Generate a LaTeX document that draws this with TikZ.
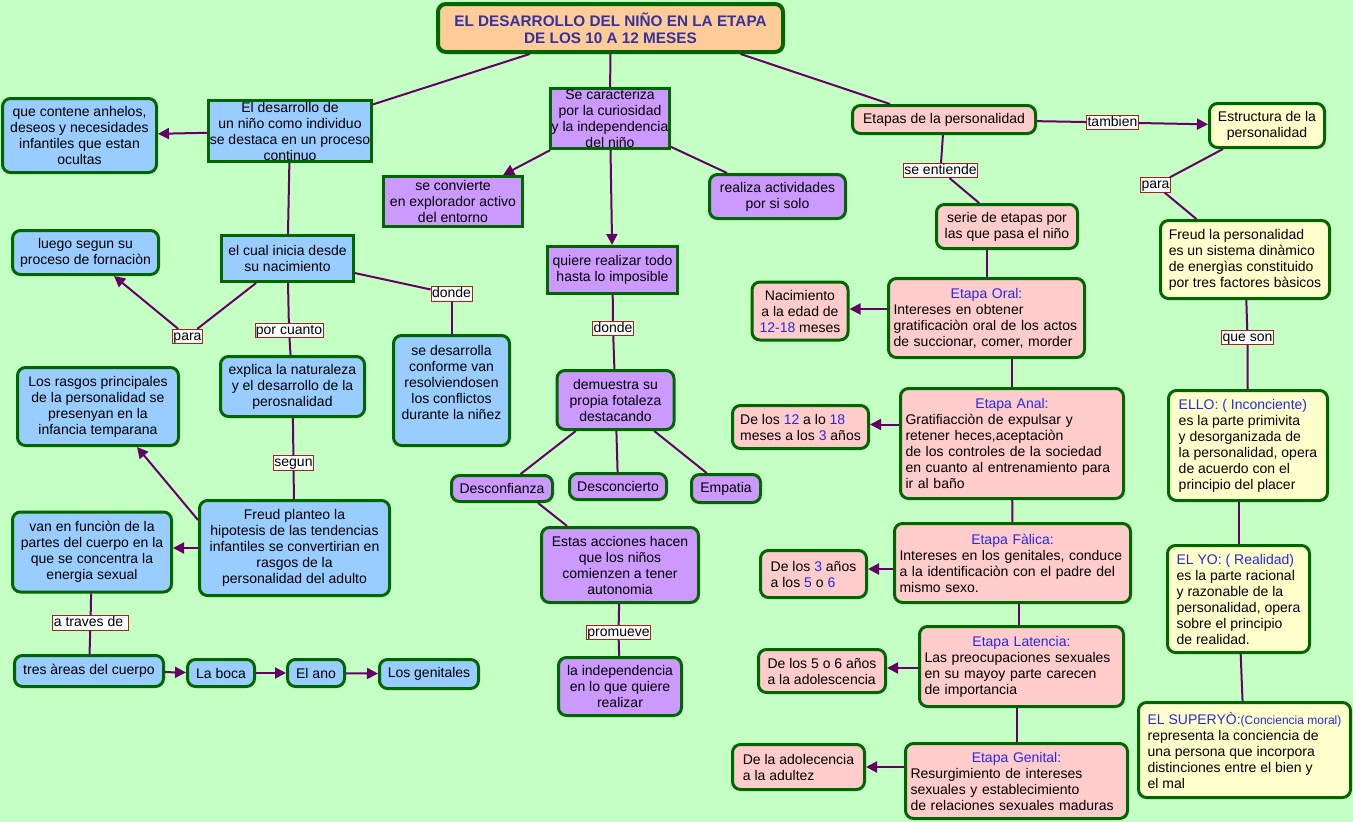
\documentclass[tikz,border=0pt]{standalone}
\usepackage{fontspec}
\setmainfont{Liberation Sans}
\usetikzlibrary{arrows.meta,calc}
\definecolor{fondo}{RGB}{196,255,196}
\definecolor{borde}{RGB}{0,102,0}
\definecolor{azul}{RGB}{153,204,255}
\definecolor{lila}{RGB}{204,153,255}
\definecolor{rosa}{RGB}{255,204,204}
\definecolor{crema}{RGB}{255,255,204}
\definecolor{naranja}{RGB}{255,204,153}
\definecolor{titulo}{RGB}{51,51,153}
\definecolor{resalta}{RGB}{40,40,230}
\definecolor{enlace}{RGB}{102,0,102}
\definecolor{marco}{RGB}{170,30,30}
\hyphenpenalty=10000
\exhyphenpenalty=10000
\newcommand{\res}[1]{\textcolor{resalta}{#1}}
\newcommand{\cabeza}[1]{\hbox to\hsize{\hss\res{#1}\hss}\\}
\tikzset{
	concepto/.style={draw=borde,line width=3pt,rounded corners=8pt,inner sep=1pt,align=center,text=black,font=\fontsize{14}{16}\selectfont},
	cazul/.style={concepto,fill=azul},
	clila/.style={concepto,fill=lila},
	crosa/.style={concepto,fill=rosa},
	ccrema/.style={concepto,fill=crema},
	etapa/.style={crosa,align=left,inner xsep=5pt},
	frase/.style={draw=marco,line width=0.8pt,fill=white,inner xsep=1pt,inner ysep=0.5pt,text height=10.5pt,text depth=3pt,font=\fontsize{14}{16}\selectfont},
	liga/.style={draw=enlace,line width=2pt},
	flecha/.style={liga,-{Triangle[length=11pt,width=11pt]}}
}
\begin{document}
\begin{tikzpicture}[x=1pt,y=-1pt]
		\useasboundingbox (0,0) rectangle (1353,822);
		\fill[fondo] (0,0) rectangle (1353,822);
		\node[concepto,fill=naranja,line width=4pt,text=titulo,font=\bfseries\fontsize{15.3}{17}\selectfont,minimum width=345pt,minimum height=48pt] (tit) at (610.5,28) {EL DESARROLLO DEL NIÑO EN LA ETAPA\\DE LOS 10 A 12 MESES};
		\node[cazul,sharp corners,minimum width=163pt,minimum height=61pt] (desarrollo) at (290,131) {El desarrollo de\\un niño como individuo\\se destaca en un proceso\\continuo};
		\node[cazul,minimum width=154pt,minimum height=74pt] (anhelos) at (79.5,135.5) {que contene anhelos,\\deseos y necesidades\\infantiles que estan\\ocultas};
		\node[clila,sharp corners,minimum width=119pt,minimum height=60pt] (caracteriza) at (610,118.5) {Se caracteriza\\por la curiosidad\\y la independencia\\del niño};
		\node[clila,sharp corners,minimum width=139pt,minimum height=50pt] (convierte) at (453,201.5) {se convierte\\en explorador activo\\del entorno};
		\node[clila,minimum width=136pt,minimum height=44pt] (realiza) at (777.5,196.5) {realiza actividades\\por si solo};
		\node[clila,sharp corners,minimum width=130pt,minimum height=47pt] (quiere) at (612.5,270) {quiere realizar todo\\hasta lo imposible};
		\node[crosa,minimum width=183pt,minimum height=28pt] (etapas) at (944,119.5) {Etapas de la personalidad};
		\node[ccrema,minimum width=115pt,minimum height=44pt] (estructura) at (1267,125.5) {Estructura de la\\personalidad};
		\node[crosa,minimum width=141pt,minimum height=44pt] (serie) at (1007,226.5) {serie de etapas por\\las que pasa el niño};
		\node[ccrema,align=left,minimum width=169pt,minimum height=78pt] (freudpers) at (1245,259.5) {Freud la personalidad\\es un sistema dinàmico\\de energìas constituido\\por tres factores bàsicos};
		\node[cazul,sharp corners,minimum width=132pt,minimum height=46pt] (inicia) at (287.5,258.5) {el cual inicia desde\\su nacimiento};
		\node[cazul,minimum width=146pt,minimum height=44pt] (luego) at (85.5,252.5) {luego segun su\\proceso de fornaciòn};
		\node[cazul,minimum width=144pt,minimum height=60pt] (explica) at (292.5,386.5) {explica la naturaleza\\y el desarrollo de la\\perosnalidad};
		\node[cazul,minimum width=116pt,minimum height=110pt] (resuelve) at (451.5,390.5) {se desarrolla\\conforme van\\resolviendosen\\los conflictos\\durante la niñez\\\mbox{}};
		\node[cazul,minimum width=161pt,minimum height=78pt] (rasgos) at (98,406.5) {Los rasgos principales\\de la personalidad se\\presenyan en la\\infancia temparana};
		\node[cazul,minimum width=190pt,minimum height=95pt] (planteo) at (294.5,548) {Freud planteo la\\hipotesis de las tendencias\\infantiles se convertirian en\\rasgos de la\\personalidad del adulto};
		\node[cazul,minimum width=159pt,minimum height=80pt] (funcion) at (92,552) {van en funciòn de la\\partes del cuerpo en la\\que se concentra la\\energia sexual};
		\node[cazul,minimum width=149pt,minimum height=31pt] (areas) at (89,671) {tres àreas del cuerpo};
		\node[cazul,minimum width=67pt,minimum height=27pt] (boca) at (221,673) {La boca};
		\node[cazul,minimum width=57pt,minimum height=27pt] (ano) at (316,673) {El ano};
		\node[cazul,minimum width=99pt,minimum height=29pt] (genitales) at (429,674) {Los genitales};
		\node[clila,minimum width=117pt,minimum height=59pt] (demuestra) at (615.5,400) {demuestra su\\propia fotaleza\\destacando};
		\node[clila,minimum width=101pt,minimum height=26pt] (desconfianza) at (502,488.5) {Desconfianza};
		\node[clila,minimum width=97pt,minimum height=26pt] (desconcierto) at (618,486.5) {Desconcierto};
		\node[clila,minimum width=69pt,minimum height=28pt] (empatia) at (726,488.5) {Empatia};
		\node[clila,minimum width=157pt,minimum height=75pt] (acciones) at (620,565) {Estas acciones hacen\\que los niños\\comienzen a tener\\autonomia};
		\node[clila,minimum width=123pt,minimum height=58pt] (independencia) at (620,686.5) {la independencia\\en lo que quiere\\realizar};
		\node[crosa,minimum width=96pt,minimum height=58pt] (nacimiento) at (800,311) {Nacimiento\\a la edad de\\\res{12-18} meses};
		\node[etapa,text width=186pt,minimum width=196pt,minimum height=79pt] (oral) at (986.5,318) {\cabeza{Etapa Oral:}Intereses en obtener\\gratificaciòn oral de los actos\\de succionar, comer, morder};
		\node[crosa,align=left,minimum width=136pt,minimum height=43pt] (doce) at (800.5,427) {De los \res{12} a lo \res{18}\\meses a los \res{3} años};
		\node[etapa,text width=213pt,minimum width=223pt,minimum height=110pt] (anal) at (1012,443.5) {\cabeza{Etapa Anal:}Gratifiacciòn de expulsar y\\retener heces,aceptaciòn\\de los controles de la sociedad\\en cuanto al entrenamiento para\\ir al baño};
		\node[crosa,align=left,minimum width=106pt,minimum height=47pt] (tresanos) at (813.5,574) {De los \res{3} años\\a los \res{5} o \res{6}};
		\node[etapa,text width=226pt,minimum width=236pt,minimum height=79pt] (falica) at (1012.5,563) {\cabeza{Etapa Fàlica:}Intereses en los genitales, conduce\\a la identificaciòn con el padre del\\mismo sexo.};
		\node[crosa,align=left,minimum width=127pt,minimum height=43pt] (cincoseis) at (822,671) {De los 5 o 6 años\\a la adolescencia};
		\node[etapa,text width=194pt,minimum width=204pt,minimum height=80pt] (latencia) at (1021.5,666.5) {\cabeza{Etapa Latencia:}Las preocupaciones sexuales\\en su mayoy parte carecen\\de importancia};
		\node[crosa,align=left,minimum width=132pt,minimum height=45pt] (adultez) at (798.5,767) {De la adolecencia\\a la adultez};
		\node[etapa,text width=212pt,minimum width=222pt,minimum height=75pt] (genital) at (1016.5,781) {\cabeza{Etapa Genital:}Resurgimiento de intereses\\sexuales y establecimiento\\de relaciones sexuales maduras};
		\node[ccrema,align=left,minimum width=159pt,minimum height=110pt] (ello) at (1248,445.5) {\res{ELLO: ( Inconciente)}\\es la parte primivita\\y desorganizada de\\la personalidad, opera\\de acuerdo con el\\principio del placer};
		\node[ccrema,align=left,minimum width=142pt,minimum height=107pt] (yo) at (1238.5,599) {\res{EL YO: ( Realidad)}\\es la parte racional\\y razonable de la\\personalidad, opera\\sobre el principio\\de realidad.};
		\node[ccrema,align=left,minimum width=212pt,minimum height=95pt] (superyo) at (1244.5,750) {\res{EL SUPERYÒ:{\fontsize{12}{16}\selectfont(Conciencia moral)}}\\representa la conciencia de\\una persona que incorpora\\distinciones entre el bien y\\el mal};
		\node[frase] (fpara) at (187.5,336.5) {para};
		\node[frase] (fporcuanto) at (289,330.5) {por cuanto};
		\node[frase] (fdonde) at (451.5,294) {donde};
		\node[frase] (fdondedos) at (613,328.5) {donde};
		\node[frase] (fsegun) at (293.5,463) {segun};
		\node[frase] (fatraves) at (90.5,623) {a traves de\hspace*{4pt}};
		\node[frase] (fpromueve) at (618.5,632.5) {promueve};
		\node[frase] (ftambien) at (1112.5,122.5) {tambien};
		\node[frase] (fentiende) at (940.5,170.5) {se entiende};
		\node[frase] (fparados) at (1155.5,185) {para};
		\node[frase] (fqueson) at (1247.5,337.5) {que son};
		\draw[liga] (tit) -- (desarrollo);
		\draw[liga] (tit) -- (caracteriza);
		\draw[liga] ($(tit.south)+(130,0)$) -- ($(etapas.north)+(-54,0)$);
		\draw[flecha] (desarrollo) -- (anhelos);
		\draw[liga] (desarrollo) -- (inicia);
		\draw[flecha] (caracteriza) -- (convierte);
		\draw[liga] (caracteriza) -- (realiza);
		\draw[flecha] (caracteriza) -- (quiere);
		\draw[liga] (quiere) -- (fdondedos);
		\draw[liga] (fdondedos) -- (demuestra);
		\draw[liga] (demuestra) -- (desconfianza);
		\draw[liga] (demuestra) -- (desconcierto);
		\draw[liga] (demuestra) -- (empatia);
		\draw[liga] ($(desconfianza.south)+(36,0)$) -- ($(acciones.north)+(-53,0)$);
		\draw[liga] (acciones) -- (fpromueve);
		\draw[liga] (fpromueve) -- (independencia);
		\draw[liga] (inicia) -- (fpara);
		\draw[flecha] (fpara) -- (luego);
		\draw[liga] (inicia) -- (fporcuanto);
		\draw[liga] (fporcuanto) -- (explica);
		\draw[liga] (inicia) -- (fdonde);
		\draw[liga] (fdonde) -- (resuelve);
		\draw[liga] (explica) -- (fsegun);
		\draw[liga] (fsegun) -- (planteo);
		\draw[flecha] ($(planteo.west)+(0,-28)$) -- ($(rasgos.south)+(39,0)$);
		\draw[flecha] (planteo.west) -- (planteo.west -| funcion.east);
		\draw[liga] (funcion) -- (fatraves);
		\draw[liga] (fatraves) -- (areas);
		\draw[flecha] (areas) -- (boca);
		\draw[flecha] (boca) -- (ano);
		\draw[flecha] (ano) -- (genitales);
		\draw[liga] (etapas) -- (ftambien);
		\draw[flecha] (ftambien) -- (estructura);
		\draw[liga] (etapas) -- (fentiende);
		\draw[liga] (fentiende) -- (serie);
		\draw[liga] (oral.north |- serie.south) -- (oral.north);
		\draw[flecha] ([yshift=9pt]oral.west) coordinate (o1) -- (o1 -| nacimiento.east);
		\draw[liga] (anal.north |- oral.south) -- (anal.north);
		\draw[flecha] ([yshift=19pt]anal.west) coordinate (a1) -- (a1 -| doce.east);
		\draw[liga] (anal) -- (falica);
		\draw[flecha] ([yshift=-6pt]falica.west) coordinate (f1) -- (f1 -| tresanos.east);
		\draw[liga] ([xshift=-3pt]latencia.north) coordinate (l0) -- (l0 |- falica.south);
		\draw[flecha] ([yshift=-1.5pt]latencia.west) coordinate (l1) -- (l1 -| cincoseis.east);
		\draw[liga] (genital.north) -- (genital.north |- latencia.south);
		\draw[flecha] ([yshift=14pt]genital.west) coordinate (g1) -- (g1 -| adultez.east);
		\draw[liga] (estructura) -- (fparados);
		\draw[liga] (fparados) -- (freudpers);
		\draw[liga] (freudpers) -- (fqueson);
		\draw[liga] (fqueson) -- (ello);
		\draw[liga] (yo.north |- ello.south) -- (yo.north);
		\draw[liga] (yo) -- (superyo);
\end{tikzpicture}
\end{document}
